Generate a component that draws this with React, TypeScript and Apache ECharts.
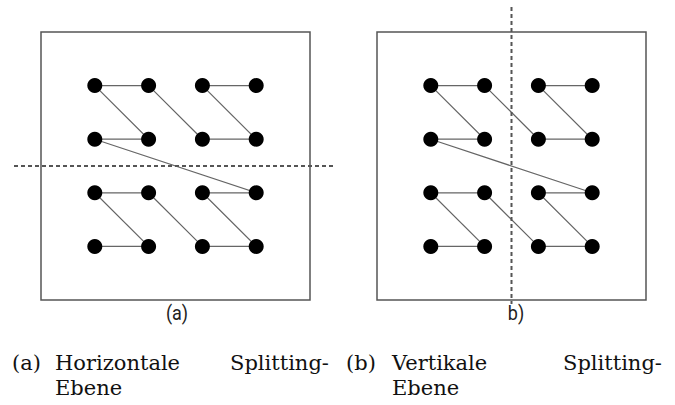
import React, { useEffect, useRef } from "react";
import * as echarts from "echarts";

// Traversal order of the 16 points (column, row; row 0 at top)
const pathCols = [3, 2, 3, 2, 1, 0, 1, 0, 3, 2, 3, 2, 1, 0, 1, 0];
const pathRows = [0, 0, 1, 1, 0, 0, 1, 1, 2, 2, 3, 3, 2, 2, 3, 3];
const splitValue = 1.5;
const panelLabels = ["(a)", "b)"];
const captionLine1 = [
  ["(a)", "Horizontale", "Splitting-"],
  ["(b)", "Vertikale", "Splitting-"],
];
const captionLine2 = ["Ebene", "Ebene"];

export default function App() {
  const ref = useRef<HTMLDivElement>(null);
  useEffect(() => {
    if (!ref.current) return;
    const chart = echarts.init(ref.current, null, { renderer: "svg" });
    const data = pathCols.map((c, i) => [c, pathRows[i]]);
    const axisBase = { type: "value", min: -1, max: 4, show: false, splitLine: { show: false } };
    const gridBase = { show: true, borderColor: "#555", borderWidth: 1.5, backgroundColor: "#fff", top: 32, height: 268, width: 269 };
    const seriesBase = {
      type: "line",
      symbol: "circle",
      symbolSize: 15,
      itemStyle: { color: "#000" },
      lineStyle: { color: "#666", width: 1.2 },
      data,
      z: 3,
    };
    chart.setOption({
      animation: false,
      backgroundColor: "#fff",
      grid: [
        { ...gridBase, left: 41 },
        { ...gridBase, left: 377 },
      ],
      xAxis: [
        { ...axisBase, gridIndex: 0 },
        { ...axisBase, gridIndex: 1 },
      ],
      yAxis: [
        { ...axisBase, gridIndex: 0, inverse: true },
        { ...axisBase, gridIndex: 1, inverse: true },
      ],
      series: [
        { ...seriesBase, xAxisIndex: 0, yAxisIndex: 0 },
        { ...seriesBase, xAxisIndex: 1, yAxisIndex: 1 },
      ],
    });
    const hy = chart.convertToPixel({ gridIndex: 0 }, [0, splitValue])[1];
    const vx = chart.convertToPixel({ gridIndex: 1 }, [splitValue, 0])[0];
    const dash = { stroke: "#555", lineWidth: 2, lineDash: [4, 3] };
    const capStyle = (text: string, x: number, y: number) => ({
      type: "text",
      x,
      y,
      style: { text, fontFamily: "DejaVu Serif", fontSize: 21, fill: "#111", verticalAlign: "bottom" },
    });
    const panelStyle = (text: string, x: number) => ({
      type: "text",
      x,
      y: 313,
      scaleX: 0.9,
      style: { text, fontFamily: "Roboto", fontSize: 20, fill: "#222", align: "center", verticalAlign: "middle" },
    });
    chart.setOption({
      graphic: [
        { type: "line", shape: { x1: 14, y1: hy, x2: 334, y2: hy }, style: dash, z: 10 },
        { type: "line", shape: { x1: vx, y1: 7, x2: vx, y2: 304 }, style: dash, z: 10 },
        panelStyle(panelLabels[0], 177),
        panelStyle(panelLabels[1], 516),
        capStyle(captionLine1[0][0], 12, 373),
        capStyle(captionLine1[0][1], 55, 373),
        capStyle(captionLine1[0][2], 230, 373),
        capStyle(captionLine1[1][0], 346, 373),
        capStyle(captionLine1[1][1], 392, 373),
        capStyle(captionLine1[1][2], 563, 373),
        capStyle(captionLine2[0], 55, 398),
        capStyle(captionLine2[1], 392, 398),
      ],
    });
    return () => chart.dispose();
  }, []);
  return <div ref={ref} style={{ position: "fixed", left: 0, top: 0, width: 675, height: 405 }} />;
}
